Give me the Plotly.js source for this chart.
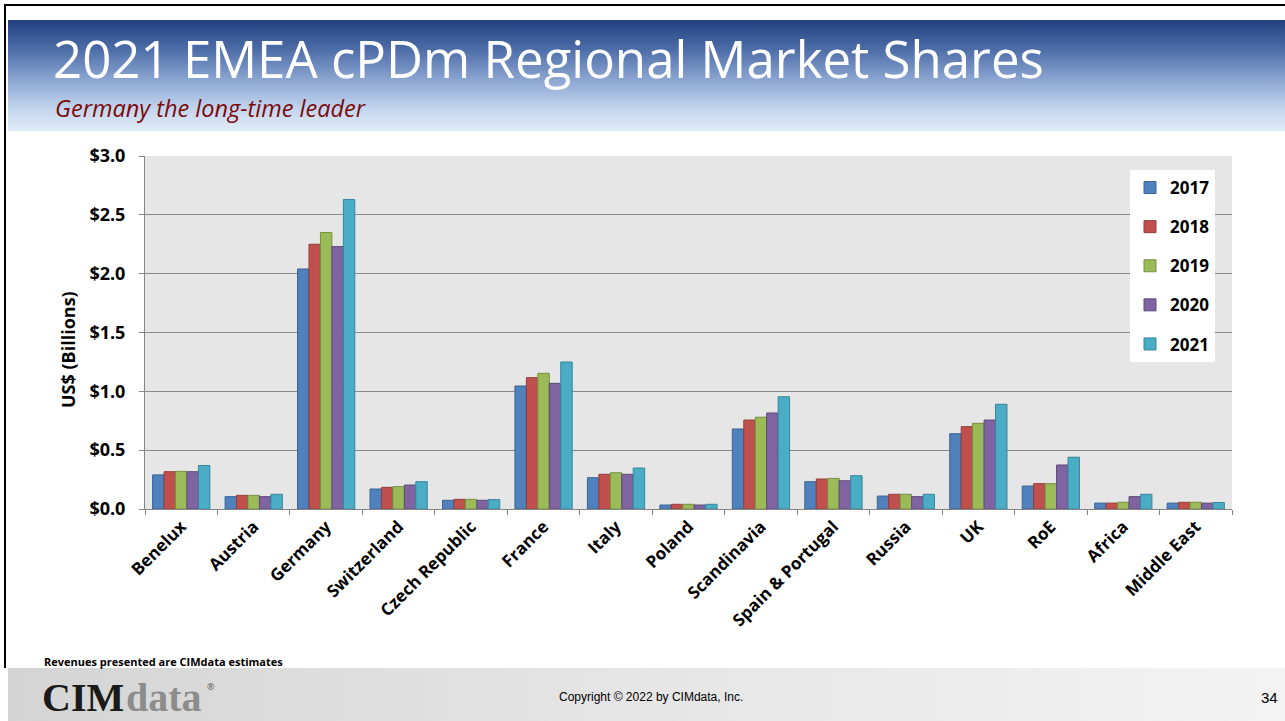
<!DOCTYPE html>
<html>
<head>
<meta charset="utf-8">
<script src="https://cdn.plot.ly/plotly-3.0.1.min.js"></script>
<style>
  html, body { margin: 0; padding: 0; background: #ffffff; }
  body { width: 1285px; height: 721px; position: relative; overflow: hidden; }
  #topline { position: absolute; left: 4px; top: 4px; width: 1281px; height: 2px; background: #000; }
  #leftline { position: absolute; left: 4px; top: 4px; width: 2px; height: 664px; background: #000; }
  #banner { position: absolute; left: 8px; top: 20px; width: 1277px; height: 111px;
    background: linear-gradient(to bottom, #22407f 0%, #4a6aa6 25%, #8ea8d3 55%, #c3d5ee 80%, #e0ebf8 100%); }
  #footer { position: absolute; left: 8px; top: 668px; width: 1277px; height: 53px;
    background: linear-gradient(to right, #d4d4d4 0%, #e4e4e4 45%, #f3f3f3 100%); }
  #chart { position: absolute; left: 0; top: 0; width: 1285px; height: 721px; }
</style>
</head>
<body>
<div id="topline"></div>
<div id="leftline"></div>
<div id="banner"></div>
<div id="footer"></div>
<div id="chart"></div>
<script>
const categories = ["Benelux", "Austria", "Germany", "Switzerland", "Czech Republic", "France", "Italy", "Poland",
  "Scandinavia", "Spain & Portugal", "Russia", "UK", "RoE", "Africa", "Middle East"];
const years = ["2017", "2018", "2019", "2020", "2021"];
const v2017 = [0.29, 0.105, 2.04, 0.17, 0.074, 1.045, 0.266, 0.034, 0.68, 0.232, 0.11, 0.64, 0.195, 0.05, 0.05];
const v2018 = [0.317, 0.116, 2.25, 0.184, 0.082, 1.116, 0.295, 0.04, 0.756, 0.255, 0.125, 0.70, 0.215, 0.05, 0.057];
const v2019 = [0.32, 0.116, 2.35, 0.19, 0.082, 1.153, 0.308, 0.04, 0.78, 0.26, 0.125, 0.728, 0.215, 0.057, 0.057];
const v2020 = [0.317, 0.105, 2.23, 0.204, 0.074, 1.068, 0.295, 0.034, 0.816, 0.24, 0.105, 0.756, 0.374, 0.105, 0.05];
const v2021 = [0.37, 0.125, 2.63, 0.232, 0.08, 1.249, 0.348, 0.04, 0.954, 0.283, 0.125, 0.89, 0.44, 0.125, 0.055];
const seriesValues = [v2017, v2018, v2019, v2020, v2021];
const fillColors = ["#4F81BD", "#C0504D", "#9BBB59", "#8064A2", "#4BACC6"];
const lineColors = ["#3A6496", "#943C3A", "#76903F", "#5E4A7A", "#36869B"];

const FONT = "'Open Sans', Lato, sans-serif";

const traces = years.map((y, i) => ({
  type: "bar",
  name: y,
  x: categories,
  y: seriesValues[i],
  legendgroup: "g" + y,
  marker: { color: fillColors[i], line: { color: lineColors[i], width: 1 } },
  hoverinfo: "x+y+name"
}));

const layout = {
  width: 1285,
  height: 721,
  margin: { l: 145, r: 53, t: 156, b: 212 },
  paper_bgcolor: "rgba(0,0,0,0)",
  plot_bgcolor: "#e6e6e6",
  barmode: "group",
  bargap: 0.21,
  bargroupgap: 0,
  font: { family: FONT, color: "#000" },
  title: {
    text: "2021 EMEA cPDm Regional Market Shares",
    font: { family: FONT, size: 51, color: "#ffffff" },
    x: 53 / 1285, xanchor: "left", xref: "container",
    y: 1 - 60 / 721, yanchor: "middle", yref: "container"
  },
  xaxis: {
    type: "category",
    showline: true, linecolor: "#868686", linewidth: 1,
    ticks: "outside", tickson: "boundaries", ticklen: 5, tickcolor: "#868686",
    tickangle: -45,
    tickfont: { family: FONT, size: 17, color: "#000", weight: "bold" },
    showgrid: false, fixedrange: true
  },
  yaxis: {
    range: [0, 3], dtick: 0.5, tick0: 0,
    tickprefix: "$", tickformat: ".1f",
    showline: true, linecolor: "#868686", linewidth: 1,
    ticks: "outside", ticklen: 5, tickcolor: "#868686",
    ticklabelstandoff: 10,
    showgrid: true, gridcolor: "#8a8a8a", gridwidth: 1,
    zeroline: false,
    tickfont: { family: FONT, size: 18, color: "#000", weight: "bold" },
    fixedrange: true
  },
  legend: {
    x: (1130 - 145) / 1087, xanchor: "left",
    y: (509 - 170) / 353, yanchor: "top",
    bgcolor: "#ffffff", borderwidth: 0,
    font: { family: FONT, size: 17, color: "#000", weight: "bold" },
    tracegroupgap: 14,
    traceorder: "grouped"
  },
  annotations: [
    { text: "Germany the long-time leader", xref: "paper", yref: "paper",
      x: (53 - 145) / 1087, y: (509 - 108) / 353, xanchor: "left", yanchor: "middle", showarrow: false,
      font: { family: FONT, size: 23.5, color: "#7b0a0a", style: "italic" } },
    { text: "US$ (Billions)", xref: "paper", yref: "paper",
      x: (68 - 145) / 1087, y: (509 - 350) / 353, xanchor: "center", yanchor: "middle", showarrow: false, textangle: -90,
      font: { family: FONT, size: 18, color: "#000", weight: "bold" } },
    { text: "Revenues presented are CIMdata estimates", xref: "paper", yref: "paper",
      x: (42 - 145) / 1087, y: (509 - 661) / 353, xanchor: "left", yanchor: "middle", showarrow: false,
      font: { family: FONT, size: 11, color: "#000", weight: "bold" } },
    { text: "CIM", xref: "paper", yref: "paper",
      x: (40 - 145) / 1087, y: (509 - 697) / 353, xanchor: "left", yanchor: "middle", showarrow: false,
      font: { family: "'Liberation Serif', serif", size: 40, color: "#1a1a1a", weight: "bold" } },
    { text: "data", xref: "paper", yref: "paper",
      x: (124 - 145) / 1087, y: (509 - 697) / 353, xanchor: "left", yanchor: "middle", showarrow: false,
      font: { family: "'Liberation Serif', serif", size: 40, color: "#8c8c8c", weight: "bold" } },
    { text: "®", xref: "paper", yref: "paper",
      x: (205 - 145) / 1087, y: (509 - 686) / 353, xanchor: "left", yanchor: "middle", showarrow: false,
      font: { family: FONT, size: 9, color: "#555" } },
    { text: "Copyright © 2022 by CIMdata, Inc.", xref: "paper", yref: "paper",
      x: (651 - 145) / 1087, y: (509 - 697) / 353, xanchor: "center", yanchor: "middle", showarrow: false,
      font: { family: "'Liberation Sans', Arial, sans-serif", size: 12, color: "#000" } },
    { text: "34", xref: "paper", yref: "paper",
      x: (1280 - 145) / 1087, y: (509 - 697) / 353, xanchor: "right", yanchor: "middle", showarrow: false,
      font: { family: "'Liberation Sans', Arial, sans-serif", size: 15, color: "#000" } }
  ]
};

Plotly.newPlot("chart", traces, layout, { displayModeBar: false, staticPlot: true });
</script>
</body>
</html>
